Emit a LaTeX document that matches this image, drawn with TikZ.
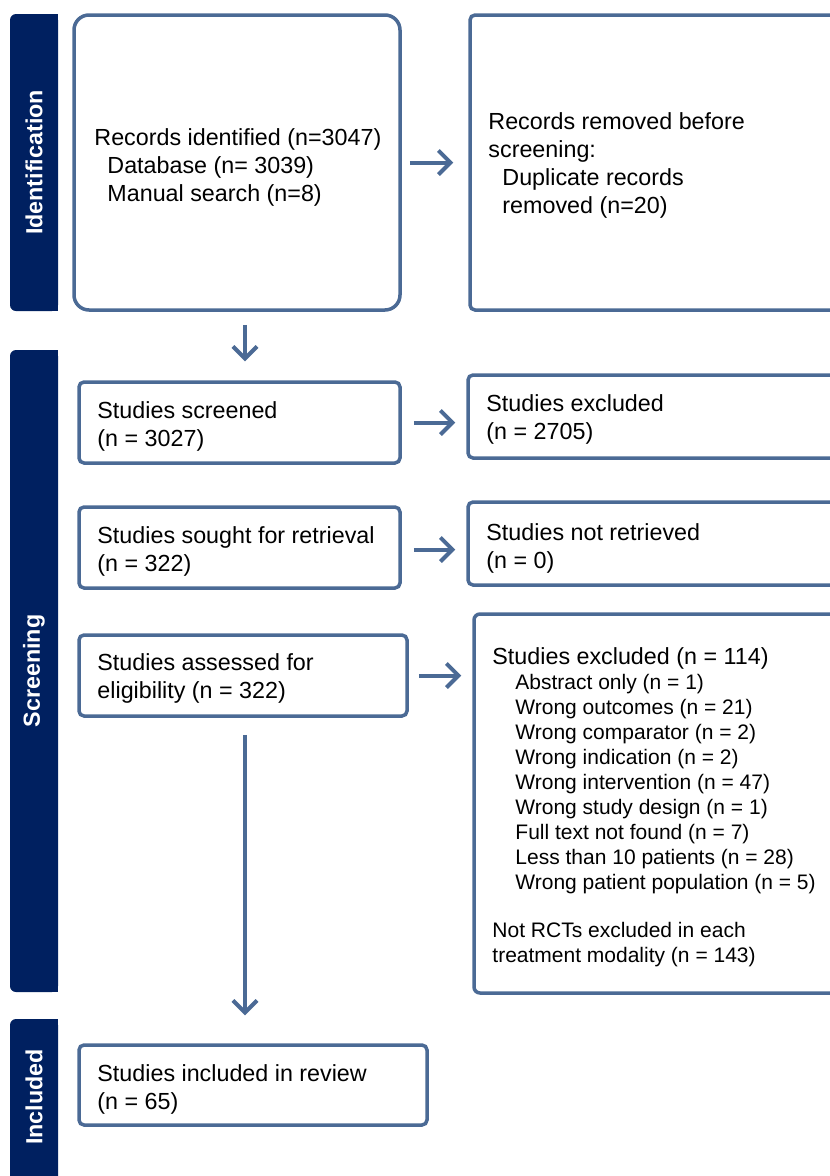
\documentclass[tikz,border=0pt]{standalone}
\usepackage{fontspec}
\setmainfont{Liberation Sans}
\usetikzlibrary{arrows.meta,calc}
\definecolor{navy}{HTML}{002060}
\definecolor{edgeblue}{HTML}{4B6A95}
\begin{document}
\begin{tikzpicture}[x=1pt,y=-1pt,
  box/.style={draw=edgeblue,line width=3.5pt,rounded corners=5pt,inner sep=0pt,fill=white},
  txt/.style={anchor=west,inner sep=0pt,align=left,font=\fontsize{23.3}{28}\selectfont},
  smalltxt/.style={anchor=west,inner sep=0pt,align=left,font=\fontsize{21}{25}\selectfont},
  arr/.style={draw=edgeblue,line width=4pt,-{Straight Barb[length=12pt,width=24pt]}},
  sidelab/.style={rotate=90,text=white,inner sep=0pt,font=\bfseries\fontsize{23.3}{28}\selectfont}]
\useasboundingbox (0,0) rectangle (830,1176);
\clip (0,0) rectangle (830,1176);
% side bars
\fill[navy,rounded corners=6pt] (10,14) rectangle (58,311);
\fill[navy] (40,14) rectangle (58,311);
\fill[navy,rounded corners=6pt] (10,350) rectangle (58,992);
\fill[navy] (40,350) rectangle (58,992);
\fill[navy,rounded corners=6pt] (10,1019) rectangle (58,1200);
\fill[navy] (40,1019) rectangle (58,1200);
\node[sidelab] (idlab) at (34,162.5) {Identification};
\node[sidelab] (scrlab) at (34,671) {Screening};
\node[sidelab] (inclab) at (34,1097) {Included};
% boxes
\node[box,rounded corners=15pt,minimum width=326pt,minimum height=295pt] (A) at (237,162.5) {};
\node[box,minimum width=410pt,minimum height=295pt] (B) at (675,162.5) {};
\node[box,minimum width=321pt,minimum height=81pt] (C) at (239.5,422.5) {};
\node[box,minimum width=412pt,minimum height=83pt] (D) at (674,416.5) {};
\node[box,minimum width=321pt,minimum height=81pt] (E) at (239.5,547.5) {};
\node[box,minimum width=412pt,minimum height=83pt] (F) at (674,543.5) {};
\node[box,minimum width=328pt,minimum height=81pt] (G) at (243,675.5) {};
\node[box,rounded corners=6pt,minimum width=406pt,minimum height=379pt] (H) at (677,803.5) {};
\node[box,minimum width=348pt,minimum height=80pt] (I) at (253,1085) {};
% texts
\node[txt] (At) at ([xshift=22pt,yshift=-5pt]A.west) {Records identified (n=3047)\\\hspace*{13pt}Database (n= 3039)\\\hspace*{13pt}Manual search (n=8)};
\node[txt] (Bt) at ([xshift=20pt,yshift=-3pt]B.west) {Records removed before\\screening:\\\hspace*{14pt}Duplicate records\\\hspace*{14pt}removed (n=20)};
\node[txt] (Ct) at ([xshift=20pt,yshift=-4pt]C.west) {Studies screened\\(n = 3027)};
\node[txt] (Dt) at ([xshift=20pt,yshift=-3pt]D.west) {Studies excluded\\(n = 2705)};
\node[txt] (Et) at ([xshift=20pt,yshift=-3.5pt]E.west) {Studies sought for retrieval\\(n = 322)};
\node[txt] (Ft) at ([xshift=20pt,yshift=-5pt]F.west) {Studies not retrieved\\(n = 0)};
\node[txt] (Gt) at ([xshift=20pt,yshift=-3pt]G.west) {Studies assessed for\\eligibility (n = 322)};
\node[smalltxt] (Ht) at ([xshift=20pt,yshift=-3.5pt]H.west) {{\fontsize{23.3}{25}\selectfont Studies excluded (n = 114)}\\
\hspace*{23pt}Abstract only (n = 1)\\
\hspace*{23pt}Wrong outcomes (n = 21)\\
\hspace*{23pt}Wrong comparator (n = 2)\\
\hspace*{23pt}Wrong indication (n = 2)\\
\hspace*{23pt}Wrong intervention (n = 47)\\
\hspace*{23pt}Wrong study design (n = 1)\\
\hspace*{23pt}Full text not found (n = 7)\\
\hspace*{23pt}Less than 10 patients (n = 28)\\
\hspace*{23pt}Wrong patient population (n = 5)\\[23pt]
Not RCTs excluded in each\\
treatment modality (n = 143)};
\node[txt] (It) at ([xshift=20pt,yshift=-4pt]I.west) {Studies included in review\\(n = 65)};
% arrows
\coordinate (xa) at (245,0);
\draw[arr,shorten <=13pt,shorten >=19pt] (A.south -| xa) -- (C.north -| xa);
\draw[arr,shorten <=17pt,shorten >=28pt] (G.south -| xa) -- (I.north -| xa);
\draw[arr,shorten <=8pt,shorten >=15pt] (A.east) -- (A.east -| B.west);
\draw[arr,shorten <=12pt,shorten >=11pt] (C.east) -- (C.east -| D.west);
\draw[arr,shorten <=12pt,shorten >=11pt] ([yshift=-2pt]E.east) -- ([yshift=-2pt]E.east -| F.west);
\draw[arr,shorten <=10pt,shorten >=11pt] (G.east) -- (G.east -| H.west);
\end{tikzpicture}
\end{document}
